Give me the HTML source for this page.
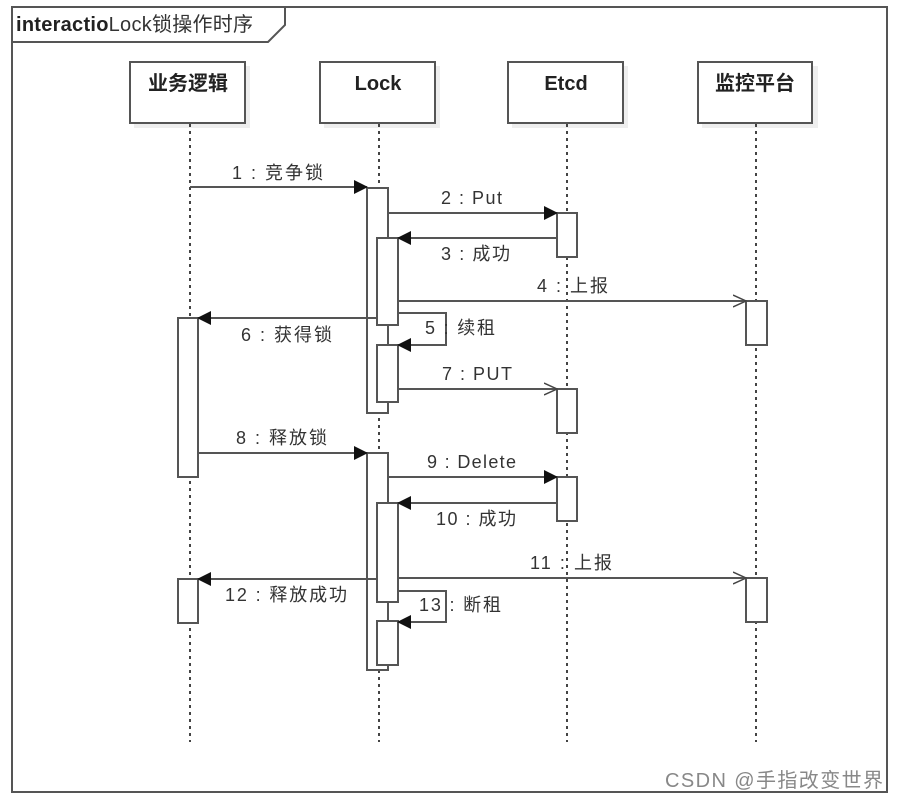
<!DOCTYPE html>
<html><head><meta charset="utf-8"><style>
html,body{margin:0;padding:0;background:#fff;width:897px;height:801px;overflow:hidden}
svg{display:block}
text{font-family:"Liberation Sans","Noto Sans CJK SC",sans-serif;fill:#333;font-size:18px}
</style></head><body>
<svg width="897" height="801" viewBox="0 0 897 801" xmlns="http://www.w3.org/2000/svg">
<defs>
<marker id="f" markerWidth="14" markerHeight="14" refX="13" refY="7" orient="auto" markerUnits="userSpaceOnUse"><path d="M0,0 L14,7 L0,14 Z" fill="#111"/></marker>
<marker id="o" markerWidth="14" markerHeight="14" refX="13" refY="7" orient="auto" markerUnits="userSpaceOnUse"><path d="M0,1 L13,7 L0,13" fill="none" stroke="#444" stroke-width="1.5"/></marker>
</defs>
<g stroke="#555" stroke-width="2" fill="none">
<rect x="12" y="7" width="875" height="785"/>
<path d="M12,42 H268 L285,25 V7"/>
</g>
<text x="16" y="31" style="font-size:20px" textLength="237"><tspan font-weight="bold" style="fill:#222">interactio</tspan>Lock锁操作时序</text>
<g fill="#eee"><rect x="134" y="66" width="116" height="62"/><rect x="324" y="66" width="116" height="62"/><rect x="512" y="66" width="116" height="62"/><rect x="702" y="66" width="116" height="62"/></g>
<g stroke="#555" stroke-width="2" fill="#fff">
<rect x="130" y="62" width="115" height="61"/><rect x="320" y="62" width="115" height="61"/><rect x="508" y="62" width="115" height="61"/><rect x="698" y="62" width="114" height="61"/>
</g>
<g text-anchor="middle">
<text x="188" y="90" style="font-weight:bold;fill:#222;font-size:20px">业务逻辑</text>
<text x="378" y="90" style="font-weight:bold;fill:#222;font-size:20px">Lock</text>
<text x="566" y="90" style="font-weight:bold;fill:#222;font-size:20px">Etcd</text>
<text x="755" y="90" style="font-weight:bold;fill:#222;font-size:20px">监控平台</text>
</g>
<g stroke="#444" stroke-width="2" stroke-dasharray="3,4">
<line x1="190" y1="124" x2="190" y2="742"/><line x1="379" y1="124" x2="379" y2="742"/><line x1="567" y1="124" x2="567" y2="742"/><line x1="756" y1="124" x2="756" y2="742"/>
</g>
<g stroke="#555" stroke-width="2" fill="#fff">
<rect x="367" y="188" width="21" height="225"/>
<rect x="377" y="238" width="21" height="87"/>
<rect x="377" y="345" width="21" height="57"/>
<rect x="557" y="213" width="20" height="44"/>
<rect x="557" y="389" width="20" height="44"/>
<rect x="746" y="301" width="21" height="44"/>
<rect x="178" y="318" width="20" height="159"/>
<rect x="367" y="453" width="21" height="217"/>
<rect x="377" y="503" width="21" height="99"/>
<rect x="377" y="621" width="21" height="44"/>
<rect x="557" y="477" width="20" height="44"/>
<rect x="746" y="578" width="21" height="44"/>
<rect x="178" y="579" width="20" height="44"/>
</g>
<g stroke="#555" stroke-width="2" fill="none">
<line x1="190" y1="187" x2="367" y2="187" marker-end="url(#f)"/>
<line x1="388" y1="213" x2="557" y2="213" marker-end="url(#f)"/>
<line x1="557" y1="238" x2="398" y2="238" marker-end="url(#f)"/>
<line x1="398" y1="301" x2="746" y2="301" marker-end="url(#o)"/>
<path d="M398,313 H446 V345 H398" marker-end="url(#f)"/>
<line x1="377" y1="318" x2="198" y2="318" marker-end="url(#f)"/>
<line x1="398" y1="389" x2="557" y2="389" marker-end="url(#o)"/>
<line x1="198" y1="453" x2="367" y2="453" marker-end="url(#f)"/>
<line x1="388" y1="477" x2="557" y2="477" marker-end="url(#f)"/>
<line x1="557" y1="503" x2="398" y2="503" marker-end="url(#f)"/>
<line x1="398" y1="578" x2="746" y2="578" marker-end="url(#o)"/>
<line x1="377" y1="579" x2="198" y2="579" marker-end="url(#f)"/>
<path d="M398,591 H446 V622 H398" marker-end="url(#f)"/>
</g>
<g>
<text x="232" y="179" textLength="91">1 : 竞争锁</text>
<text x="441" y="204" textLength="61">2 : Put</text>
<text x="441" y="260" textLength="69">3 : 成功</text>
<text x="537" y="292" textLength="71">4 : 上报</text>
<text x="425" y="334" textLength="70">5 : 续租</text>
<text x="241" y="341" textLength="91">6 : 获得锁</text>
<text x="442" y="380" textLength="70">7 : PUT</text>
<text x="236" y="444" textLength="91">8 : 释放锁</text>
<text x="427" y="468" textLength="89">9 : Delete</text>
<text x="436" y="525" textLength="80">10 : 成功</text>
<text x="530" y="569" textLength="82">11 : 上报</text>
<text x="225" y="601" textLength="122">12 : 释放成功</text>
<text x="419" y="611" textLength="82">13 : 断租</text>
</g>
<text x="665" y="787" style="font-size:20px;fill:#888" textLength="218">CSDN @手指改变世界</text>
</svg>
</body></html>
